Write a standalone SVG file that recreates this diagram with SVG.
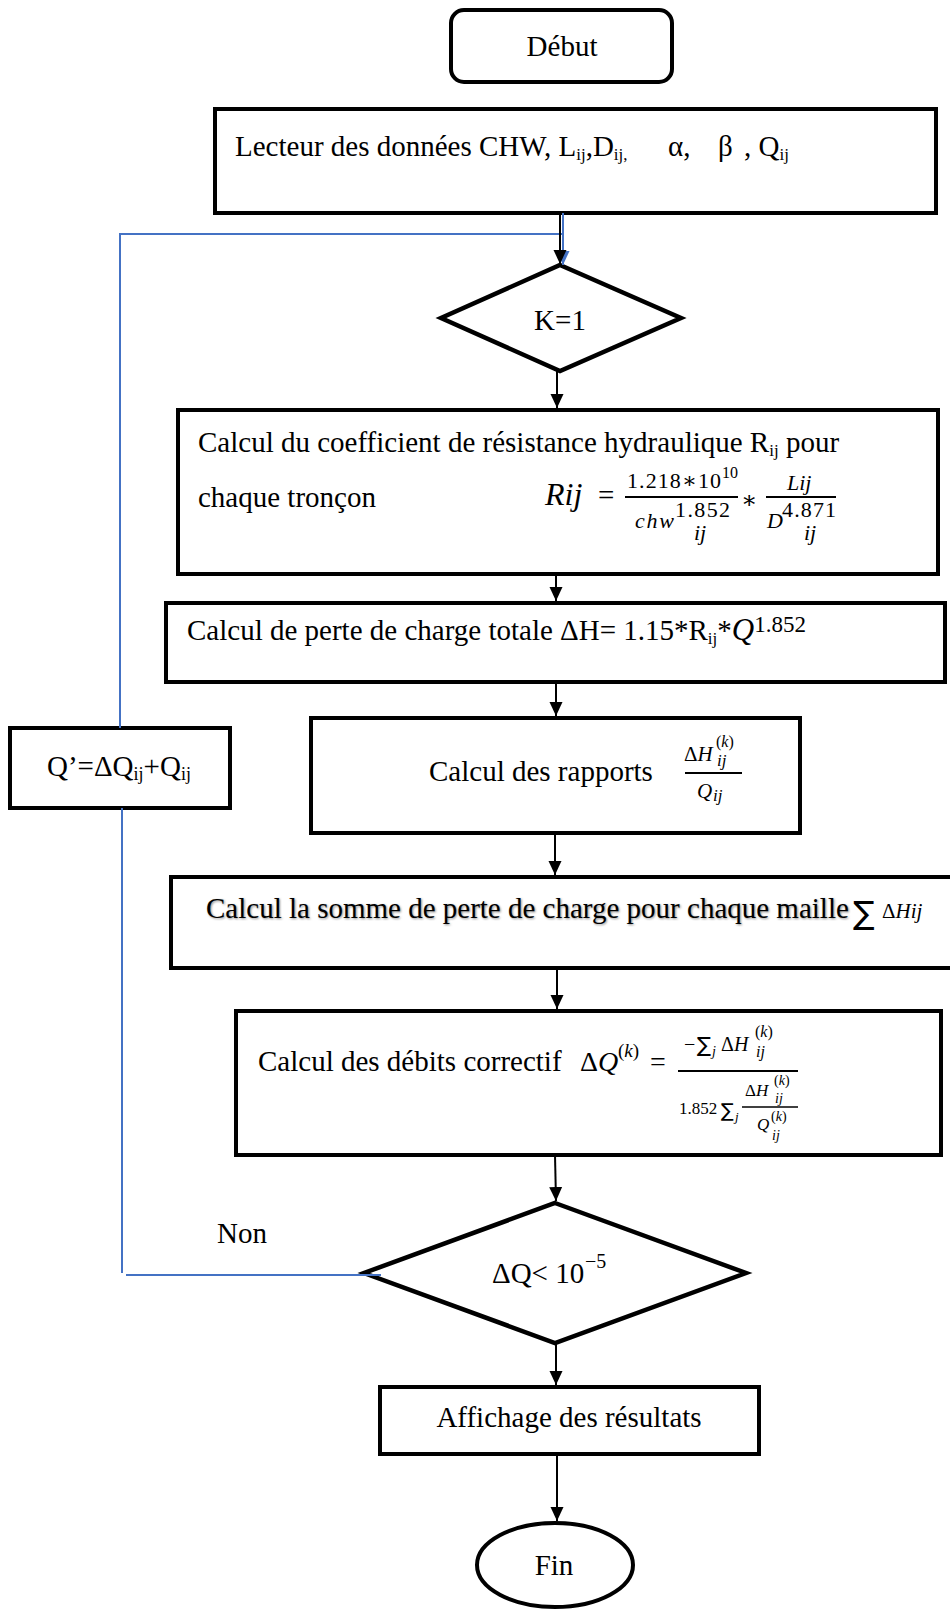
<svg xmlns="http://www.w3.org/2000/svg" width="950" height="1609" viewBox="0 0 950 1609">
  <defs>
    <marker id="arrow" markerUnits="userSpaceOnUse" markerWidth="14" markerHeight="14" refX="14" refY="7" orient="auto">
      <path d="M0,0.5 L14,7 L0,13.5 z" fill="#000"/>
    </marker>
    <marker id="arrowBlue" markerUnits="userSpaceOnUse" markerWidth="14" markerHeight="14" refX="14" refY="7" orient="auto">
      <path d="M0,0.5 L14,7 L0,13.5 z" fill="#4472c4"/>
    </marker>
    <filter id="soft" x="-5%" y="-50%" width="110%" height="200%">
      <feGaussianBlur stdDeviation="1"/>
    </filter>
  </defs>
  <style>
    text { font-family: "Liberation Serif", "Times New Roman", "DejaVu Serif", serif; fill: #000; }
    .t { font-size: 29px; }
    .c { text-anchor: middle; }
    .i { font-style: italic; }
    .sum { font-family: "DejaVu Sans", sans-serif; }
    .box { fill: #fff; stroke: #000; stroke-width: 4; }
    .dia { fill: #fff; stroke: #000; stroke-width: 4.5; stroke-linejoin: miter; }
    .bar { stroke: #000; stroke-width: 2; }
    .conn { stroke: #000; stroke-width: 2; fill: none; }
    .loop { stroke: #4472c4; stroke-width: 2; fill: none; }
  </style>

  <rect width="950" height="1609" fill="#fff"/>

  <!-- start -->
  <g id="debut">
    <rect class="box" x="451" y="10" width="221" height="72" rx="13"/>
    <text class="t c" x="562" y="56">Début</text>
  </g>

  <!-- input data -->
  <g id="lecteur">
    <rect class="box" x="215" y="109" width="721" height="104"/>
    <text class="t" x="235" y="156" font-size="28">Lecteur des données CHW, L<tspan font-size="17" dy="4">ij</tspan><tspan dy="-4">,D</tspan><tspan font-size="17" dy="4">ij,</tspan></text>
    <text class="t" x="668" y="156">α,</text>
    <text class="t" x="718" y="156">β</text>
    <text class="t" x="744" y="156">, Q<tspan font-size="17" dy="4">ij</tspan></text>
  </g>

  <!-- iteration counter -->
  <g id="k1">
    <polygon class="dia" points="560,265 681,318 560,371 441,318"/>
    <text class="t c" x="560" y="330">K=1</text>
  </g>

  <!-- hydraulic resistance -->
  <g id="resistance">
    <rect class="box" x="178" y="410" width="760" height="164"/>
    <text class="t" x="198" y="452" font-size="29.3">Calcul du coefficient de résistance hydraulique R<tspan font-size="17" dy="4">ij</tspan><tspan dy="-4"> pour</tspan></text>
    <text class="t" x="198" y="507">chaque tronçon</text>
    <text class="i" x="545" y="505" font-size="32">Rij</text>
    <text x="598" y="505" font-size="29">=</text>
    <line class="bar" x1="625" y1="497" x2="738" y2="497"/>
    <text x="627" y="488" font-size="22" textLength="94">1.218∗10</text>
    <text x="722" y="478" font-size="16">10</text>
    <text class="i" x="635" y="528" font-size="22" textLength="39">chw</text>
    <text x="675" y="517" font-size="22" textLength="55">1.852</text>
    <text class="i" x="694" y="540" font-size="22">ij</text>
    <text x="741" y="508" font-size="24">∗</text>
    <line class="bar" x1="766" y1="497" x2="836" y2="497"/>
    <text class="i" x="787" y="490" font-size="22">Lij</text>
    <text class="i" x="767" y="528" font-size="22">D</text>
    <text x="782" y="517" font-size="22" textLength="54">4.871</text>
    <text class="i" x="804" y="540" font-size="22">ij</text>
  </g>

  <!-- total head loss -->
  <g id="perte">
    <rect class="box" x="166" y="603" width="779" height="79"/>
    <text class="t" x="187" y="640" font-size="29.8">Calcul de perte de charge totale ΔH= 1.15*R<tspan font-size="17" dy="4">ij</tspan><tspan dy="-4">*</tspan><tspan class="i" font-size="31">Q</tspan><tspan font-size="23" dy="-8">1.852</tspan></text>
  </g>

  <!-- ratios -->
  <g id="rapports">
    <rect class="box" x="311" y="718" width="489" height="115"/>
    <text class="t" x="429" y="781">Calcul des rapports</text>
    <text x="684" y="761" font-size="21">Δ<tspan class="i">H</tspan></text>
    <text x="716" y="747" font-size="16">(<tspan class="i">k</tspan>)</text>
    <text class="i" x="717" y="766" font-size="17">ij</text>
    <line class="bar" x1="685" y1="773" x2="742" y2="773"/>
    <text class="i" x="697" y="798" font-size="21">Q</text>
    <text class="i" x="713" y="801" font-size="17">ij</text>
  </g>

  <!-- corrected flow -->
  <g id="nouveau-debit">
    <rect class="box" x="10" y="728" width="220" height="80"/>
    <text class="t" x="47" y="776" font-size="30.5">Q’=ΔQ<tspan font-size="18" dy="4">ij</tspan><tspan dy="-4">+Q</tspan><tspan font-size="18" dy="4">ij</tspan></text>
  </g>

  <!-- loop sum -->
  <g id="somme">
    <rect class="box" x="171" y="877" width="790" height="91"/>
    <text class="t" x="207" y="919" font-size="28.5" style="fill:#8a8a8a" filter="url(#soft)">Calcul la somme de perte de charge pour chaque maille</text>
    <text class="t" x="206" y="918" font-size="28.5">Calcul la somme de perte de charge pour chaque maille</text>
    <text class="sum" x="853" y="924" font-size="32">∑</text>
    <text x="882" y="918" font-size="21">Δ<tspan class="i">Hij</tspan></text>
  </g>

  <!-- flow correction -->
  <g id="correctif">
    <rect class="box" x="236" y="1011" width="705" height="144"/>
    <text class="t" x="258" y="1071" font-size="28">Calcul des débits correctif</text>
    <text x="580" y="1071" font-size="28">Δ<tspan class="i">Q</tspan></text>
    <text x="618" y="1057" font-size="19">(<tspan class="i">k</tspan>)</text>
    <text x="650" y="1071" font-size="28">=</text>
    <line class="bar" x1="678" y1="1071" x2="798" y2="1071"/>
    <text x="684" y="1051" font-size="20">−</text>
    <text class="sum" x="697" y="1052" font-size="21">∑</text>
    <text class="i" x="712" y="1056" font-size="14">j</text>
    <text x="721" y="1051" font-size="20">Δ<tspan class="i">H</tspan></text>
    <text x="755" y="1037" font-size="16">(<tspan class="i">k</tspan>)</text>
    <text class="i" x="756" y="1057" font-size="16">ij</text>
    <text x="679" y="1114" font-size="17">1.852</text>
    <text class="sum" x="721" y="1117" font-size="19">∑</text>
    <text class="i" x="735" y="1121" font-size="13">j</text>
    <text x="745" y="1096" font-size="17">Δ<tspan class="i">H</tspan></text>
    <text x="774" y="1085" font-size="14">(<tspan class="i">k</tspan>)</text>
    <text class="i" x="775" y="1103" font-size="14">ij</text>
    <line x1="742" y1="1107" x2="798" y2="1107" stroke="#000" stroke-width="1.5"/>
    <text class="i" x="757" y="1130" font-size="17">Q</text>
    <text x="771" y="1121" font-size="14">(<tspan class="i">k</tspan>)</text>
    <text class="i" x="772" y="1140" font-size="14">ij</text>
  </g>

  <!-- convergence test -->
  <g id="test">
    <polygon class="dia" points="555,1203 746,1273 555,1343 364,1273"/>
    <text class="t" x="492" y="1283">ΔQ&lt; 10</text>
    <text x="585" y="1268" font-size="20">−5</text>
  </g>

  <!-- output -->
  <g id="affichage">
    <rect class="box" x="380" y="1387" width="379" height="67"/>
    <text class="t c" x="569" y="1427">Affichage des résultats</text>
  </g>

  <!-- end -->
  <g id="fin">
    <ellipse class="box" cx="555" cy="1565" rx="78" ry="42"/>
    <text class="t c" x="554" y="1575">Fin</text>
  </g>

  <!-- label of the loop-back branch -->
  <text class="t" x="217" y="1243">Non</text>

  <g id="connectors">
    <!-- return loop (blue) -->
    <polyline class="loop" points="381,1275 126,1275"/>
    <polyline class="loop" points="122,1273 122,808"/>
    <polyline class="loop" points="120,728 120,234 563,234"/>
    <line class="loop" x1="563" y1="213" x2="563" y2="265" marker-end="url(#arrowBlue)"/>
    <!-- main flow -->
    <line class="conn" x1="560" y1="213" x2="560" y2="264" marker-end="url(#arrow)"/>
    <line class="conn" x1="557" y1="371" x2="557" y2="408" marker-end="url(#arrow)"/>
    <line class="conn" x1="556" y1="574" x2="556" y2="601" marker-end="url(#arrow)"/>
    <line class="conn" x1="556" y1="682" x2="556" y2="716" marker-end="url(#arrow)"/>
    <line class="conn" x1="555" y1="833" x2="555" y2="875" marker-end="url(#arrow)"/>
    <line class="conn" x1="557" y1="968" x2="557" y2="1009" marker-end="url(#arrow)"/>
    <line class="conn" x1="555" y1="1155" x2="556" y2="1201" marker-end="url(#arrow)"/>
    <line class="conn" x1="556" y1="1343" x2="556" y2="1385" marker-end="url(#arrow)"/>
    <line class="conn" x1="557" y1="1454" x2="557" y2="1521" marker-end="url(#arrow)"/>
  </g>
</svg>
